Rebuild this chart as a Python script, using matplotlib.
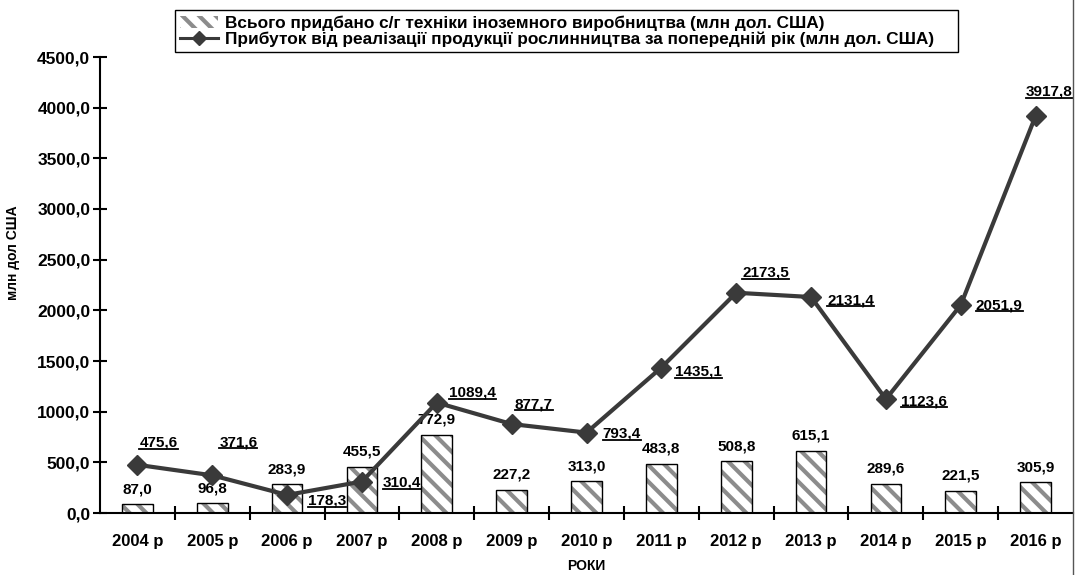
#!/usr/bin/env python3
import matplotlib as mpl
import matplotlib.pyplot as plt
import numpy as np
from matplotlib.lines import Line2D
from matplotlib.ticker import FixedLocator, FuncFormatter
mpl.use("Agg")
mpl.rcParams["font.family"] = ["Liberation Sans", "DejaVu Sans"]
mpl.rcParams["font.weight"] = "bold"
mpl.rcParams["hatch.linewidth"] = 3.0
mpl.rcParams["legend.fancybox"] = False

years = ["2004 р", "2005 р", "2006 р", "2007 р", "2008 р", "2009 р", "2010 р",
         "2011 р", "2012 р", "2013 р", "2014 р", "2015 р", "2016 р"]
machinery = [87.0, 96.8, 283.9, 455.5, 772.9, 227.2, 313.0,
             483.8, 508.8, 615.1, 289.6, 221.5, 305.9]
profit = [475.6, 371.6, 178.3, 310.4, 1089.4, 877.7, 793.4,
          1435.1, 2173.5, 2131.4, 1123.6, 2051.9, 3917.8]

bar_name = "Всього придбано с/г техніки іноземного виробництва (млн дол. США)"
line_name = "Прибуток від реалізації продукції рослинництва за попередній рік (млн дол. США)"

# label offsets for line values (pixels, dx, dy)
line_offsets = [(2, 22), (7, 33), (21, -6), (21, -1), (12, 10), (3, 20), (16, -1),
                (14, -4), (6, 20), (16, -3), (15, -2), (15, 0), (-10, 24)]


def comma(v):
    return ("%.1f" % v).replace(".", ",")


def main():
    fig = plt.figure(figsize=(10.75, 5.75), dpi=100)
    ax = fig.add_axes([100 / 1075, 62 / 575, 973 / 1075, 456 / 575])
    x = np.arange(len(years))

    # hatched bars (grey stripes) + black outline
    bars = ax.bar(x, machinery, width=0.41, color="white", edgecolor="#8c8c8c",
                  hatch="\\\\", linewidth=0, zorder=2)
    ax.bar(x, machinery, width=0.41, fill=False, edgecolor="black",
           linewidth=1, zorder=3)
    for xi, v in zip(x, machinery):
        ax.annotate(comma(v), (xi, v), xytext=(0, 8), textcoords="offset pixels",
                    ha="center", va="bottom", fontsize=11, fontweight="bold")

    line, = ax.plot(x, profit, color="#3a3a3a", linewidth=3, marker="D",
                    markersize=10, markerfacecolor="#3a3a3a", zorder=4)
    line_labels = []
    for xi, v, off in zip(x, profit, line_offsets):
        t = ax.annotate(comma(v), (xi, v), xytext=off, textcoords="offset pixels",
                        ha="left", va="center", fontsize=11, fontweight="bold",
                        zorder=5)
        line_labels.append(t)

    ax.set_xlim(-0.5, len(years) - 0.5)
    ax.set_ylim(0, 4500)
    ax.set_yticks(np.arange(0, 4501, 500))
    ax.yaxis.set_major_formatter(FuncFormatter(lambda v, p: comma(v)))
    ax.set_xticks(x)
    ax.set_xticklabels(years)
    ax.xaxis.set_minor_locator(FixedLocator(np.arange(0.5, len(years) - 0.5, 1)))
    ax.tick_params(axis="x", which="major", length=0, pad=15, labelsize=12)
    ax.tick_params(axis="x", which="minor", direction="inout", length=10, width=1.5)
    ax.tick_params(axis="y", direction="inout", length=10, width=1.5, pad=2,
                   labelsize=12.5)
    for lab in ax.get_xticklabels() + ax.get_yticklabels():
        lab.set_fontweight("bold")
    ax.spines["top"].set_visible(False)
    ax.spines["right"].set_visible(False)
    ax.spines["left"].set_linewidth(1.5)
    ax.spines["bottom"].set_linewidth(1.5)

    ax.set_ylabel("млн дол США", fontsize=10, fontweight="bold")
    ax.yaxis.set_label_coords(-0.082, 0.57)
    ax.set_xlabel("РОКИ", fontsize=10, fontweight="bold")
    ax.xaxis.set_label_coords(0.5, -0.1)

    leg = fig.legend([bars, line], [bar_name, line_name], loc="upper left",
                     bbox_to_anchor=(175 / 1075, 1 - 52 / 575, 783 / 1075, 42 / 575),
                     mode="expand", borderaxespad=0,
                     prop={"size": 12.4, "weight": "bold"}, handlelength=2.2,
                     handletextpad=0.4, labelspacing=0.05, borderpad=0.3,
                     frameon=True, edgecolor="black", framealpha=1)
    leg.get_frame().set_linewidth(1)
    leg_line = leg.legend_handles[1]
    leg_line.set_linewidth(2.2)
    leg_line.set_markersize(7)

    # right border line
    fig.add_artist(Line2D([1073 / 1075, 1073 / 1075], [0, 1], color="#555555",
                          linewidth=1, transform=fig.transFigure))

    # underline the line labels
    fig.canvas.draw()
    inv = fig.transFigure.inverted()
    for t in line_labels:
        bb = t.get_window_extent()
        (x0, y0), (x1, _) = inv.transform([(bb.x0, bb.y0 + 1), (bb.x1, bb.y0 + 1)])
        fig.add_artist(Line2D([x0, x1], [y0, y0], color="black", linewidth=1.3,
                              transform=fig.transFigure, zorder=6))

    fig.savefig("out.png", dpi=100)
    plt.close()


if __name__ == "__main__":
    main()
